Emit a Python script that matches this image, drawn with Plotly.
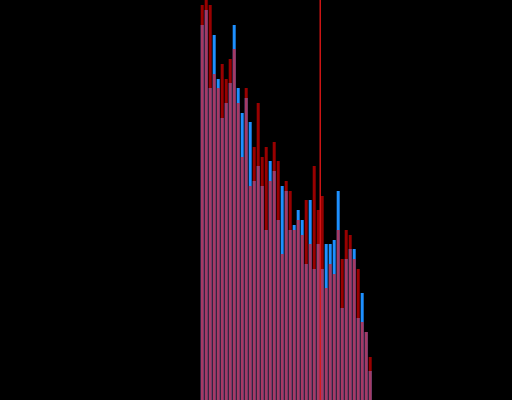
import plotly.graph_objects as go

# bin index of each bar
bins = list(range(43))

# series values (heights)
blue_counts = [375, 390, 312, 365, 321, 282, 297, 317, 375, 312, 287, 302, 278, 219, 234,
               214, 170, 239, 229, 180, 214, 209, 170, 175, 190, 180, 136, 200, 131, 156,
               131, 156, 156, 160, 209, 92, 141, 151, 151, 82, 107, 68, 29]
red_counts = [395, 400, 395, 326, 312, 336, 321, 341, 351, 297, 243, 312, 214, 253, 297,
              243, 253, 219, 258, 239, 146, 219, 209, 170, 180, 165, 200, 156, 234, 190,
              204, 112, 136, 126, 170, 141, 170, 165, 141, 131, 78, 68, 43]

threshold = 29.5

fig = go.Figure()
fig.add_trace(go.Bar(x=bins, y=blue_counts, marker=dict(color="#1e90ff", line_width=0), name="A"))
fig.add_trace(go.Bar(x=bins, y=red_counts, marker=dict(color="#ff0000", line_width=0),
                     opacity=0.6, name="B"))
fig.add_vline(x=threshold, line_color="#ff1a1a", line_width=1.2)

fig.update_layout(
    width=512, height=400,
    barmode="overlay", bargap=0.25,
    paper_bgcolor="black", plot_bgcolor="black",
    margin=dict(l=0, r=0, t=0, b=0),
    showlegend=False,
    xaxis=dict(range=[-50.55, 77.45], visible=False, showgrid=False, zeroline=False),
    yaxis=dict(range=[0, 400], visible=False, showgrid=False, zeroline=False),
)

# page body has a default margin; drop it so the chart fills the window
fig.write_html("out.html", config={"displayModeBar": False},
               post_script="document.body.style.margin='0';document.body.style.background='black';")
